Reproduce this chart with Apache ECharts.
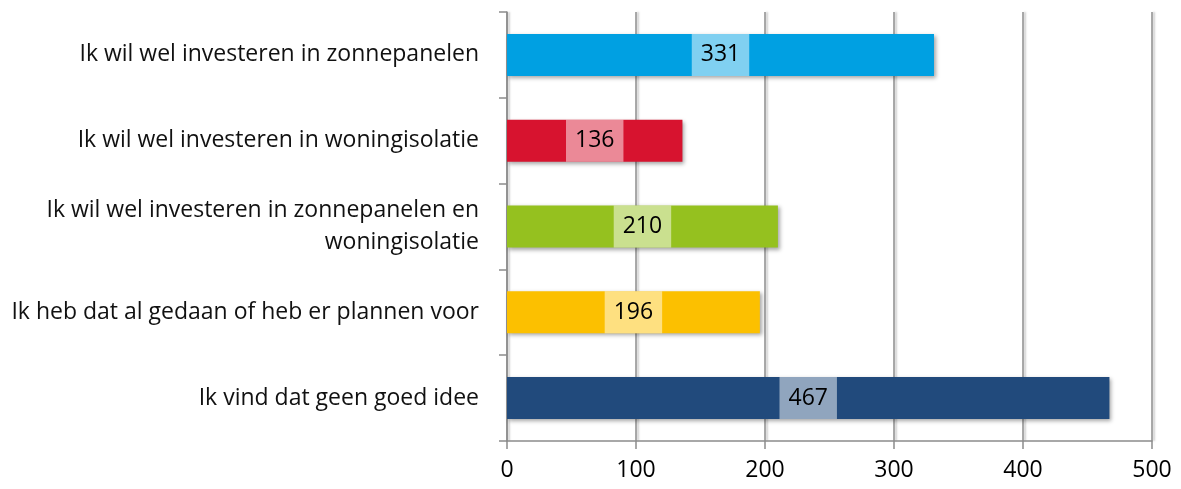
<!DOCTYPE html>
<html>
<head>
<meta charset="utf-8">
<script src="https://cdn.jsdelivr.net/npm/echarts@6/dist/echarts.min.js"></script>
<style>
    html, body { margin: 0; padding: 0; background: #fff; }
    #chart { width: 1181px; height: 489px; }
</style>
</head>
<body>
<div id="chart"></div>
<script>
// categories from top to bottom
var categories = [
    'Ik wil wel investeren in zonnepanelen',
    'Ik wil wel investeren in woningisolatie',
    'Ik wil wel investeren in zonnepanelen en\nwoningisolatie',
    'Ik heb dat al gedaan of heb er plannen voor',
    'Ik vind dat geen goed idee'
];
var values = [331, 136, 210, 196, 467];
var barColors = ['#00A0E2', '#D7132F', '#95C11F', '#FCC000', '#214A7C'];
var xTicks = [0, 100, 200, 300, 400, 500];

var chart = echarts.init(document.getElementById('chart'));

var option = {
    animation: false,
    grid: { left: 507, right: 29, top: 12, bottom: 48 },
    xAxis: {
        type: 'value',
        min: xTicks[0],
        max: xTicks[xTicks.length - 1],
        interval: 100,
        axisLine: { show: true, lineStyle: { color: '#8c8c8c', width: 1.5 } },
        axisTick: { show: true, length: 8, lineStyle: { color: '#8c8c8c', width: 1.5 } },
        axisLabel: { color: '#000', fontSize: 23, fontFamily: 'Open Sans', margin: 18 },
        splitLine: {
            show: true,
            lineStyle: { color: '#8c8c8c', width: 1.5, shadowColor: 'rgba(0,0,0,0.25)', shadowBlur: 2, shadowOffsetX: 2 }
        }
    },
    yAxis: {
        type: 'category',
        inverse: true,
        data: categories,
        axisLine: { show: true, lineStyle: { color: '#8c8c8c', width: 1.5 } },
        axisTick: { show: true, length: 8, lineStyle: { color: '#8c8c8c', width: 1.5 } },
        axisLabel: {
            color: '#111', fontSize: 23, fontFamily: 'Open Sans', margin: 28,
            align: 'right', lineHeight: 32
        }
    },
    series: [{
        type: 'bar',
        barCategoryGap: '51%',
        data: values.map(function (v, i) {
            return { value: v, itemStyle: { color: barColors[i] } };
        }),
        itemStyle: {
            shadowColor: 'rgba(0,0,0,0.35)', shadowBlur: 4, shadowOffsetX: 2, shadowOffsetY: 2
        },
        label: {
            show: true,
            position: 'inside',
            color: '#000',
            fontSize: 23,
            fontFamily: 'Open Sans',
            lineHeight: 24,
            backgroundColor: 'rgba(255,255,255,0.5)',
            padding: [9, 9, 9, 9]
        }
    }]
};

chart.setOption(option);
</script>
</body>
</html>
